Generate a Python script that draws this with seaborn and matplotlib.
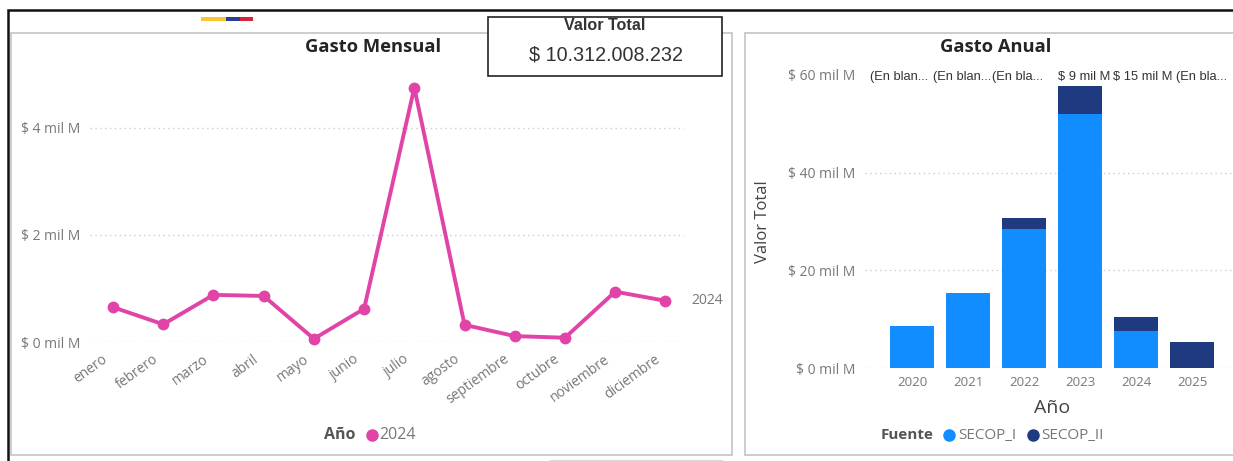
import matplotlib
matplotlib.use("Agg")
import matplotlib.pyplot as plt
from matplotlib.patches import Rectangle
from matplotlib.transforms import ScaledTranslation
import seaborn as sns

meses = ["enero", "febrero", "marzo", "abril", "mayo", "junio", "julio",
         "agosto", "septiembre", "octubre", "noviembre", "diciembre"]
gasto_2024 = [0.65, 0.33, 0.88, 0.86, 0.06, 0.62, 4.75, 0.32, 0.11, 0.08, 0.94, 0.77]

anios = ["2020", "2021", "2022", "2023", "2024", "2025"]
secop_i = [8.6, 15.4, 28.5, 52.0, 7.6, 0.0]
secop_ii = [0.0, 0.0, 2.2, 5.8, 2.8, 5.3]
etiquetas = ["(En blan...", "(En blan...", "(En bla...", "$ 9 mil M", "$ 15 mil M", "(En bla..."]

ticks_mes = [0, 2, 4]
ticks_anio = [0, 20, 40, 60]

ROSA = "#E044A7"
AZUL = "#118DFF"
MARINO = "#1F3A80"
GRIS = "#777777"
W, H = 1233, 461

sns.set_theme(style="white")
plt.rcParams["font.family"] = ["Open Sans", "DejaVu Sans"]


def px_axes(fig, left, top, right, bottom, **kw):
    return fig.add_axes([left / W, 1 - bottom / H, (right - left) / W, (bottom - top) / H], **kw)


def style_axis(ax, ticks):
    sns.despine(ax=ax, left=True, bottom=True)
    ax.set_yticks(ticks)
    ax.set_yticklabels([f"$ {t} mil M" for t in ticks], color=GRIS, fontsize=10)
    ax.grid(axis="y", color="#cccccc", linestyle=(0, (1, 2.5)), linewidth=1)
    ax.grid(axis="x", visible=False)
    ax.set_axisbelow(True)
    ax.patch.set_alpha(0)
    ax.tick_params(axis="both", length=0)
    ax.tick_params(axis="y", pad=7)


fig = plt.figure(figsize=(W / 100, H / 100), dpi=100)

# fondo: marcos, tarjeta de valor y leyendas, en coordenadas de pixel
bg = fig.add_axes([0, 0, 1, 1], zorder=0)
bg.set_xlim(0, W)
bg.set_ylim(H, 0)
bg.axis("off")
bg.add_patch(Rectangle((8, 10), W, H, fc="white", ec="#111111", lw=1.8))
bg.add_patch(Rectangle((11, 33), 721, 422, fc="white", ec="#c4c4c4", lw=1.2))
bg.add_patch(Rectangle((745, 33), 500, 422, fc="white", ec="#c4c4c4", lw=1.2))
bg.add_patch(Rectangle((550, 460), 172, 4, fc="white", ec="#d8d8d8", lw=0.8))
bg.add_patch(Rectangle((201, 17), 25, 4, fc="#F7C632", ec="none"))
bg.add_patch(Rectangle((226, 17), 14, 4, fc="#2A3F8F", ec="none"))
bg.add_patch(Rectangle((240, 17), 13, 4, fc="#D8203F", ec="none"))
bg.add_patch(Rectangle((488, 17), 234, 59, fc="white", ec="#222222", lw=1.2, zorder=5))

bg.text(373, 47, "Gasto Mensual", ha="center", va="center", fontsize=13.2, fontweight="bold", color="#252423")
bg.text(996, 47, "Gasto Anual", ha="center", va="center", fontsize=13.2, fontweight="bold", color="#252423")
bg.text(605, 26, "Valor Total", ha="center", va="center", fontsize=11.6, fontweight="bold",
        family="Liberation Sans", color="#333333", zorder=6)
bg.text(606, 55, "$ 10.312.008.232", ha="center", va="center", fontsize=14.2,
        family="Liberation Sans", color="#333333", zorder=6)

bg.text(340, 435, "Año", ha="center", va="center", fontsize=11.5, fontweight="bold", color="#555555")
bg.plot([372], [435], "o", color=ROSA, ms=8)
bg.text(379, 435, "2024", ha="left", va="center", fontsize=11.5, color=GRIS)

bg.text(907, 435, "Fuente", ha="center", va="center", fontsize=11, fontweight="bold", color="#555555")
bg.plot([949], [435], "o", color=AZUL, ms=8)
bg.text(958, 435, "SECOP_I", ha="left", va="center", fontsize=11, color=GRIS)
bg.plot([1033], [435], "o", color=MARINO, ms=8)
bg.text(1041, 435, "SECOP_II", ha="left", va="center", fontsize=11, color=GRIS)

# gasto mensual
ax1 = px_axes(fig, 90, 70, 684, 342, zorder=1)
sns.lineplot(x=meses, y=gasto_2024, ax=ax1, color=ROSA, linewidth=2.8, marker="o",
             markersize=8.5, markeredgewidth=0, clip_on=False, sort=False)
ax1.set_xlim(-0.458, 11.37)
ax1.set_ylim(0, 5.08)
style_axis(ax1, ticks_mes)
ax1.set_xticks(range(len(meses)))
ax1.set_xticklabels(meses, rotation=36, ha="right", rotation_mode="anchor", color=GRIS, fontsize=10)
ax1.tick_params(axis="x", pad=7)
corrimiento = ScaledTranslation(-8 / 72, 0, fig.dpi_scale_trans)
for lab in ax1.get_xticklabels():
    lab.set_transform(lab.get_transform() + corrimiento)
ax1.annotate("2024", (11, gasto_2024[-1]), xytext=(19, 0), textcoords="offset points",
             va="center", color=GRIS, fontsize=10)

# gasto anual
ax2 = px_axes(fig, 865, 70, W, 368, zorder=1)
sns.barplot(x=anios, y=secop_i, ax=ax2, color=AZUL, saturation=1, width=0.78, linewidth=0)
sns.barplot(x=anios, y=secop_ii, bottom=secop_i, ax=ax2, color=MARINO, saturation=1, width=0.78, linewidth=0)
ax2.set_xlim(-0.84, 5.73)
ax2.set_ylim(0, 61)
style_axis(ax2, ticks_anio)
ax2.get_ygridlines()[-1].set_visible(False)
ax2.set_xticks(range(len(anios)))
ax2.set_xticklabels(anios, color=GRIS, fontsize=9.5)
ax2.tick_params(axis="x", pad=6)
ax2.set_xlabel("Año", fontsize=14, color="#444444", labelpad=7, x=0.508)
ax2.set_ylabel("Valor Total", fontsize=12, color="#444444", labelpad=12, y=0.49)

for cx, txt in zip([899, 962, 1018, 1084, 1143, 1202], etiquetas):
    bg.text(cx, 77, txt, ha="center", va="center", fontsize=9.3, family="Liberation Sans", color="#333333")

fig.savefig("out.png", dpi=100)
